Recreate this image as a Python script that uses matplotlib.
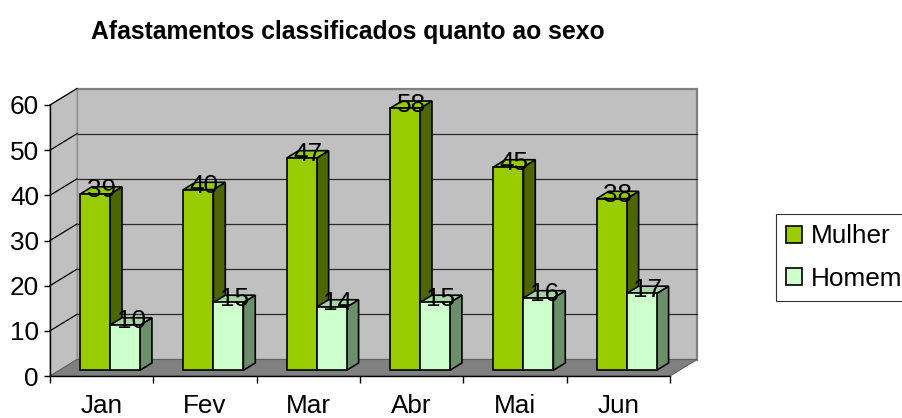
import matplotlib
matplotlib.use("Agg")
import matplotlib.pyplot as plt
from matplotlib.patches import Polygon

plt.rcParams['font.family'] = ['Liberation Sans', 'DejaVu Sans']

# ---- data ----
categories = ["Jan", "Fev", "Mar", "Abr", "Mai", "Jun"]
mulher = [39, 40, 47, 58, 45, 38]
homem = [10, 15, 14, 15, 16, 17]
series_names = ["Mulher", "Homem"]
yticks = [0, 10, 20, 30, 40, 50, 60]
title = "Afastamentos classificados quanto ao sexo"

# ---- styles ----
front_cols = ["#99CC00", "#CCFFCC"]
top_cols = ["#99CC00", "#A8D4A8"]
side_cols = ["#4D6600", "#6A8F6A"]
wall_col = "#C0C0C0"
floor_col = "#808080"
FS = 18.8

W, H = 903, 418
fig = plt.figure(figsize=(W / 100, H / 100), dpi=100)
ax = fig.add_axes([50 / W, 1 - 376 / H, 620 / W, 271 / H])
ax.set_facecolor("none")
n = len(categories)
ymax = yticks[-1]
ax.set_xlim(0, n)
ax.set_ylim(0, ymax)

DX = 27 / (620 / n)      # depth shift in category units
DY = 16.5 / (271 / ymax)  # depth shift in value units

# walls
left_wall = Polygon([(0, 0), (DX, DY), (DX, ymax + DY), (0, ymax)], closed=True,
                    facecolor=wall_col, edgecolor="#9A9A9A", lw=0.8, zorder=0.5, clip_on=False)
back_wall = Polygon([(DX, DY), (n + DX, DY), (n + DX, ymax + DY), (DX, ymax + DY)], closed=True,
                    facecolor=wall_col, edgecolor="#808080", lw=1.6, zorder=0.4, clip_on=False)
floor = Polygon([(0, 0), (n, 0), (n + DX, DY), (DX, DY)], closed=True,
                facecolor=floor_col, edgecolor="#606060", lw=0.8, zorder=0.6, clip_on=False)
for p in (back_wall, left_wall, floor):
    ax.add_patch(p)

for v in yticks[1:]:
    ax.plot([0, DX], [v, v + DY], color="black", lw=0.9, zorder=0.7, clip_on=False)
    if v < ymax:
        ax.plot([DX, n + DX], [v + DY, v + DY], color="#2a2a2a", lw=0.9, zorder=0.45, clip_on=False)

# bars
gap = 0.2
bw = 0.29
d0, d1 = 0.35, 0.79
handles = []
for i in range(n):
    for s, vals in enumerate([mulher, homem]):
        v = vals[i]
        x0 = i + gap + s * bw + d0 * DX
        y0 = d0 * DY
        x1 = x0 + bw
        ddx = (d1 - d0) * DX
        ddy = (d1 - d0) * DY
        side = Polygon([(x1, y0), (x1 + ddx, y0 + ddy), (x1 + ddx, y0 + v + ddy), (x1, y0 + v)],
                       closed=True, facecolor=side_cols[s], edgecolor="black", lw=1.2,
                       zorder=3, clip_on=False)
        top = Polygon([(x0, y0 + v), (x1, y0 + v), (x1 + ddx, y0 + v + ddy), (x0 + ddx, y0 + v + ddy)],
                      closed=True, facecolor=top_cols[s], edgecolor="black", lw=1.2,
                      zorder=3, clip_on=False)
        front = Polygon([(x0, y0), (x1, y0), (x1, y0 + v), (x0, y0 + v)],
                        closed=True, facecolor=front_cols[s], edgecolor="black", lw=1.2,
                        zorder=3, clip_on=False, label=series_names[s])
        ax.add_patch(side)
        ax.add_patch(top)
        ax.add_patch(front)
        if i == 0:
            handles.append(front)
        ax.text((x0 + x1) / 2 + ddx / 2, y0 + v + ddy / 2, str(v),
                ha="center", va="center", fontsize=FS, color="black", zorder=6, clip_on=False)

# axes
for sp in ("top", "right"):
    ax.spines[sp].set_visible(False)
ax.spines["left"].set_color("black")
ax.spines["bottom"].set_color("black")
ax.spines["left"].set_linewidth(1.0)
ax.spines["bottom"].set_linewidth(1.0)
ax.set_yticks(yticks)
ax.set_yticklabels([str(t) for t in yticks], fontsize=FS)
ax.tick_params(axis="y", direction="out", length=4, width=1, pad=4)
ax.set_xticks(range(n + 1))
ax.set_xticklabels([])
ax.tick_params(axis="x", which="major", direction="out", length=5, width=1)
ax.set_xticks([i + 0.5 for i in range(n)], minor=True)
ax.set_xticklabels(categories, minor=True, fontsize=FS)
ax.tick_params(axis="x", which="minor", length=0, pad=13)

fig.text(348 / W, 1 - 39 / H, title, ha="center", va="baseline",
         fontsize=17.8, fontweight="bold")

fig.legend(handles=handles, labels=series_names, loc="upper left",
           bbox_to_anchor=(776 / W, 1 - 214 / H), frameon=True, fancybox=False,
           edgecolor="black", fontsize=FS, handlelength=0.6, handleheight=0.6,
           handletextpad=0.35, labelspacing=0.7, borderpad=0.4, borderaxespad=0)
fig.legends[0].get_frame().set_linewidth(0.8)

fig.savefig("out.png", dpi=100, facecolor="white")
